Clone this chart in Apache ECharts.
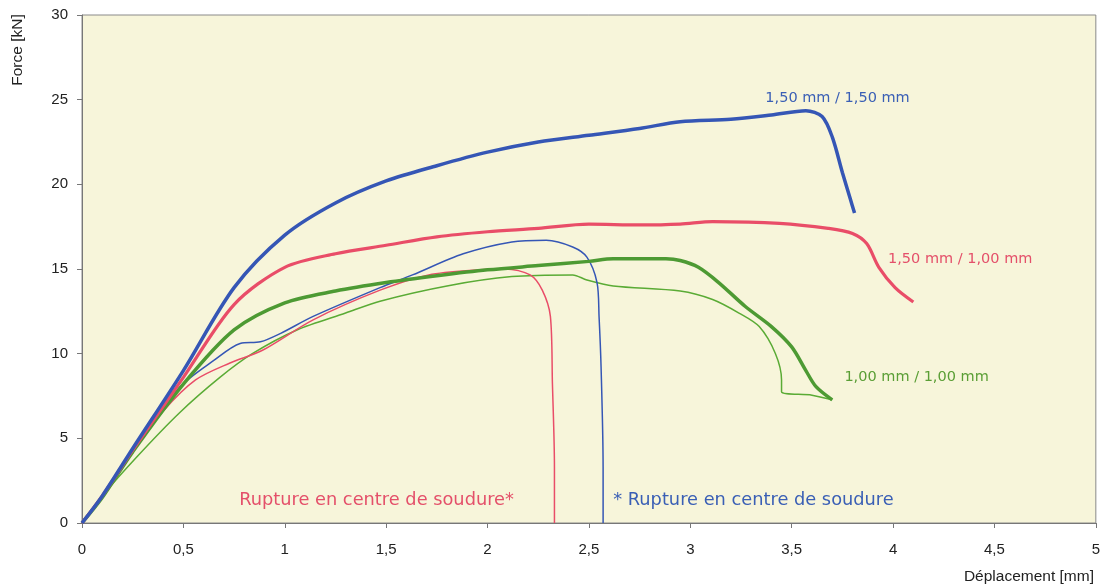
<!DOCTYPE html>
<html><head><meta charset="utf-8">
<script src="https://cdn.jsdelivr.net/npm/echarts@6/dist/echarts.min.js"></script>
<style>html,body{margin:0;padding:0;background:#fff}#c{width:1103px;height:585px}</style>
</head><body><div id="c"></div>
<script>
// Déplacement [mm], Force [kN]
const blueThick = [[0,0],[0.1,1.6],[0.25,4.4],[0.5,9.0],[0.75,13.9],[1,17.0],[1.25,18.9],[1.5,20.2],[1.75,21.1],[2,21.9],[2.25,22.5],[2.5,22.9],[2.75,23.3],[2.95,23.7],[3.2,23.85],[3.4,24.1],[3.57,24.35],[3.65,24.0],[3.70,22.8],[3.75,20.7],[3.79,19.1],[3.81,18.3]];
const redThick = [[0,0],[0.1,1.6],[0.25,4.3],[0.5,8.6],[0.75,12.9],[1,15.1],[1.25,15.9],[1.5,16.4],[1.75,16.9],[2,17.2],[2.25,17.4],[2.5,17.65],[2.75,17.6],[2.95,17.65],[3.11,17.8],[3.44,17.7],[3.68,17.4],[3.80,17.1],[3.87,16.5],[3.93,15.1],[4.01,13.9],[4.10,13.05]];
const greenThick = [[0,0],[0.1,1.5],[0.25,4.2],[0.5,8.2],[0.75,11.4],[1,13.0],[1.25,13.7],[1.5,14.2],[1.75,14.6],[2,14.95],[2.25,15.2],[2.5,15.45],[2.62,15.6],[2.88,15.6],[2.95,15.5],[3.04,15.1],[3.14,14.2],[3.27,12.8],[3.40,11.6],[3.50,10.4],[3.57,9.0],[3.62,8.05],[3.70,7.27]];
const greenThin = [[0,0],[0.1,1.6],[0.27,3.9],[0.48,6.5],[0.68,8.6],[0.84,10.0],[1.06,11.4],[1.30,12.4],[1.47,13.1],[1.80,14.0],[2.12,14.55],[2.42,14.65],[2.49,14.35],[2.62,14.0],[2.95,13.7],[3.11,13.2],[3.24,12.4],[3.34,11.6],[3.42,10.0],[3.45,8.45],[3.45,7.75],[3.60,7.55],[3.70,7.27]];
const blueThin = [[0,0],[0.1,1.6],[0.25,4.3],[0.48,8.0],[0.65,9.6],[0.78,10.6],[0.88,10.7],[0.98,11.2],[1.14,12.2],[1.47,13.9],[1.63,14.65],[1.88,15.9],[2.12,16.6],[2.29,16.7],[2.42,16.3],[2.49,15.7],[2.54,14.2],[2.55,12.2],[2.56,9.2],[2.57,3.3],[2.57,0]];
const redThin = [[0,0],[0.1,1.6],[0.25,4.2],[0.4,6.6],[0.56,8.45],[0.73,9.45],[0.89,10.2],[1.14,12.0],[1.47,13.75],[1.71,14.65],[1.96,14.95],[2.09,15.0],[2.21,14.65],[2.27,13.75],[2.31,12.2],[2.32,8.25],[2.33,3.3],[2.33,0]];
const xTicks = ['0','0,5','1','1,5','2','2,5','3','3,5','4','4,5','5'];
const labels = [
  {text:'1,50 mm / 1,50 mm', x:3.37, y:25.1, color:'#3a5fb5', size:14.5},
  {text:'1,50 mm / 1,00 mm', x:3.975, y:15.6, color:'#e4506a', size:14.5},
  {text:'1,00 mm / 1,00 mm', x:3.76, y:8.6, color:'#5a9e35', size:14.5},
  {text:'Rupture en centre de soudure*', x:0.775, y:1.35, color:'#e4506a', size:17.8},
  {text:'* Rupture en centre de soudure', x:2.62, y:1.35, color:'#3a5fb5', size:17.8}
];
const BLUE='#3556b5', RED='#e94d68', GREEN='#4d9a33', GREEN2='#5aab35';
const FONT='"DejaVu Sans", Arial, sans-serif';
const chart = echarts.init(document.getElementById('c'));
function ln(data,color,w){return {type:'line',data:data,showSymbol:false,smooth:0.3,lineStyle:{color:color,width:w},itemStyle:{color:color},silent:true,animation:false,z:w>2?3:2};}
chart.setOption({
  animation:false,
  textStyle:{fontFamily:FONT},
  grid:{left:82,right:6,top:15,bottom:62,show:true,backgroundColor:'#f7f5da',borderColor:'#8a8a8a',borderWidth:1},
  xAxis:{type:'value',min:0,max:5,interval:0.5,
    axisLine:{lineStyle:{color:'#777'}},axisTick:{show:true,length:5,lineStyle:{color:'#777'}},
    splitLine:{show:false},
    axisLabel:{fontSize:15,color:'#222',margin:19,fontFamily:'Liberation Sans, Arial',formatter:v=>xTicks[Math.round(v*2)]}},
  yAxis:{type:'value',min:0,max:30,interval:5,
    axisLine:{show:true,lineStyle:{color:'#777'}},axisTick:{show:true,length:5,lineStyle:{color:'#777'}},
    splitLine:{show:false},
    axisLabel:{fontSize:15,color:'#222',margin:14,fontFamily:'Liberation Sans, Arial'}},
  series:[ln(greenThin,GREEN2,1.5),ln(redThin,RED,1.5),ln(blueThin,BLUE,1.5),ln(greenThick,GREEN,3.5),ln(redThick,RED,3.2),ln(blueThick,BLUE,3.5)]
});
const g = labels.map(l=>{const p=chart.convertToPixel({gridIndex:0},[l.x,l.y]);return {type:'text',x:p[0],y:p[1],z:10,style:{text:l.text,fill:l.color,font:l.size+'px '+FONT,textVerticalAlign:'middle'}};});
g.push({type:'text',x:1094,y:577,style:{text:'Déplacement [mm]',fill:'#222',font:'15.5px Liberation Sans, Arial',textAlign:'right',textVerticalAlign:'middle'}});
g.push({type:'text',x:18,y:50,rotation:Math.PI/2,style:{text:'Force [kN]',fill:'#222',font:'15.5px Liberation Sans, Arial',textAlign:'center',textVerticalAlign:'middle'}});
chart.setOption({graphic:g});
</script></body></html>
